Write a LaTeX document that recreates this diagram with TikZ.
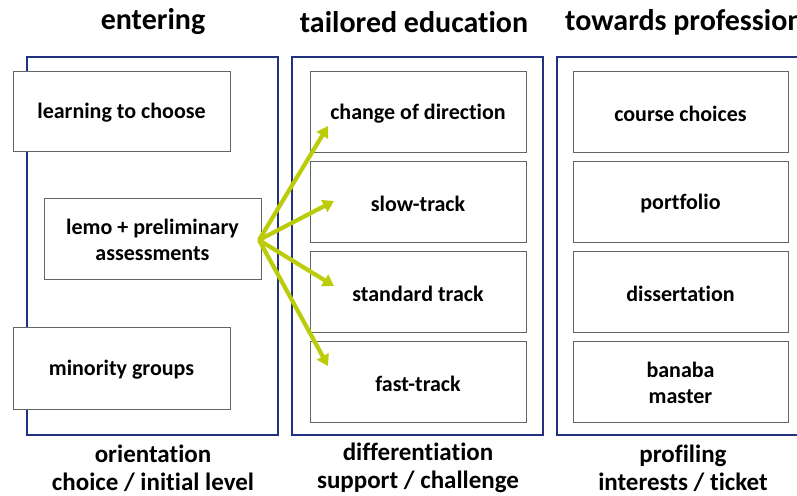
\documentclass[tikz,border=0pt]{standalone}
\usepackage{fontspec}
\setmainfont{Carlito}[Ligatures=CommonOff]
\usetikzlibrary{arrows.meta}
\definecolor{navy}{RGB}{32,50,128}
\definecolor{lime}{RGB}{187,204,10}
\definecolor{boxgray}{RGB}{100,100,100}
\begin{document}
\begin{tikzpicture}[x=1pt,y=-1pt,
  column/.style={draw=navy,line width=1.6pt},
  item/.style={draw=boxgray,fill=white,line width=0.8pt},
  label/.style={font=\bfseries\fontsize{22}{26}\selectfont,align=center},
  heading/.style={font=\bfseries\fontsize{30}{34}\selectfont},
  caption/.style={font=\bfseries\fontsize{25}{28}\selectfont,align=center},
  pointer/.style={draw=lime,line width=4.2pt,-{Triangle[length=11pt,width=13pt]}}]
\useasboundingbox (0,0) rectangle (797,495);
\clip (0,0) rectangle (797,495);
\fill[white] (0,0) rectangle (797,495);
% column frames
\draw[column] (27,57) rectangle (278,435);
\draw[column] (292,57) rectangle (543,435);
\draw[column] (557,57) rectangle (810,435);
% headings
\node[heading] (h1) at (153,22) {entering};
\node[heading] (h2) at (414,22) {tailored education};
\node[heading,anchor=west,inner sep=0pt] (h3) at (565,22) {towards profession};
% left column
\path[item] (13,71) rectangle (230,151);
\node[label] (a1) at (121.5,113) {learning to choose};
\path[item] (44,198) rectangle (261,279);
\node[label] (a2) at (152.5,240) {lemo + preliminary\\assessments};
\path[item] (13,327) rectangle (230,409);
\node[label] (a3) at (121.5,370) {minority groups};
% middle column
\path[item] (310,71) rectangle (526,152);
\node[label] (b1) at (418,113.5) {change of direction};
\path[item] (310,161) rectangle (526,242);
\node[label] (b2) at (418,203.5) {slow-track};
\path[item] (310,251) rectangle (526,332);
\node[label] (b3) at (418,293.5) {standard track};
\path[item] (310,341) rectangle (526,422);
\node[label] (b4) at (418,383.5) {fast-track};
% right column
\path[item] (573,71) rectangle (788,152);
\node[label] (c1) at (680.5,113.5) {course choices};
\path[item] (573,161) rectangle (788,242);
\node[label] (c2) at (680.5,203.5) {portfolio};
\path[item] (573,251) rectangle (788,332);
\node[label] (c3) at (680.5,293.5) {dissertation};
\path[item] (573,341) rectangle (788,422);
\node[label] (c4) at (680.5,382.5) {banaba\\master};
% arrows fanning out
\coordinate (src) at (259,240);
\coordinate (t1) at (328,126);
\coordinate (t2) at (334,201);
\coordinate (t3) at (334,286);
\coordinate (t4) at (328,366);
\draw[pointer] (src) -- (t1);
\draw[pointer] (src) -- (t2);
\draw[pointer] (src) -- (t3);
\draw[pointer] (src) -- (t4);
% captions
\node[caption] (f1) at (153,468) {orientation\\choice / initial level};
\node[caption] (f2) at (418,468) {differentiation\\support / challenge};
\node[caption] (f3) at (683,468) {profiling\\interests / ticket};
\end{tikzpicture}
\end{document}
